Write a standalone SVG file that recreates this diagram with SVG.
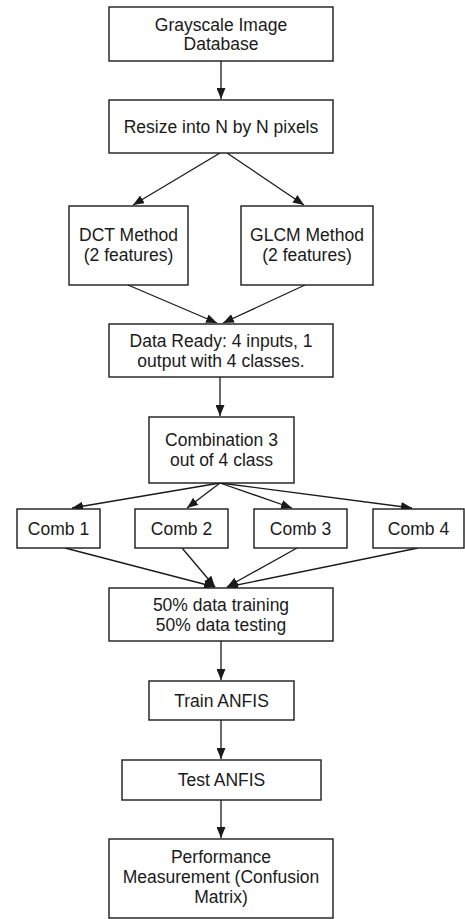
<svg xmlns="http://www.w3.org/2000/svg" width="465" height="919" viewBox="0 0 465 919">
<style>
.box{fill:#fff;stroke:#1a1a1a;stroke-width:1.4}
.t{font-family:"Liberation Sans",Arial,sans-serif;font-size:17.5px;fill:#1a1a1a;text-anchor:middle}
.c{stroke:#1a1a1a;stroke-width:1.3;fill:none;marker-end:url(#ah)}
</style>
<defs>
<marker id="ah" markerUnits="userSpaceOnUse" markerWidth="11" markerHeight="9" refX="11" refY="4.5" orient="auto">
<path d="M0,0 L11,4.5 L0,9 Z" fill="#1a1a1a"/>
</marker>
</defs>
<rect width="465" height="919" fill="#fff"/>
<g id="connectors">
<line class="c" x1="221" y1="61" x2="221" y2="99"/>
<line class="c" x1="220" y1="153" x2="133" y2="205"/>
<line class="c" x1="227" y1="153" x2="304" y2="205"/>
<line class="c" x1="128" y1="285" x2="217" y2="323"/>
<line class="c" x1="305" y1="285" x2="223" y2="323"/>
<line class="c" x1="220" y1="377" x2="220" y2="416"/>
<line class="c" x1="220" y1="483" x2="72" y2="508"/>
<line class="c" x1="220" y1="483" x2="187" y2="508"/>
<line class="c" x1="220" y1="483" x2="292" y2="508"/>
<line class="c" x1="220" y1="483" x2="412" y2="508"/>
<line class="c" x1="65" y1="548" x2="215" y2="587"/>
<line class="c" x1="182" y1="548" x2="215" y2="587"/>
<line class="c" x1="297" y1="548" x2="227" y2="587"/>
<line class="c" x1="418" y1="548" x2="227" y2="587"/>
<line class="c" x1="221" y1="641" x2="221" y2="680"/>
<line class="c" x1="221" y1="720" x2="221" y2="759"/>
<line class="c" x1="221" y1="800" x2="221" y2="838"/>
</g>
<g id="n1"><rect class="box" x="109" y="7" width="224" height="54"/><text class="t" x="221" y="30.5">Grayscale Image</text><text class="t" x="221" y="50">Database</text></g>
<g id="n2"><rect class="box" x="109" y="100" width="224" height="53"/><text class="t" x="221" y="132.5">Resize into N by N pixels</text></g>
<g id="n3"><rect class="box" x="69" y="206" width="119" height="79"/><text class="t" x="128.5" y="241">DCT Method</text><text class="t" x="128.5" y="261">(2 features)</text></g>
<g id="n4"><rect class="box" x="241" y="206" width="132" height="79"/><text class="t" x="307" y="241">GLCM Method</text><text class="t" x="307" y="261">(2 features)</text></g>
<g id="n5"><rect class="box" x="109" y="324" width="224" height="53"/><text class="t" x="221" y="347">Data Ready: 4 inputs, 1</text><text class="t" x="221" y="366.5">output with 4 classes.</text></g>
<g id="n6"><rect class="box" x="149" y="417" width="145" height="66"/><text class="t" x="221.5" y="446">Combination 3</text><text class="t" x="221.5" y="465.5">out of 4 class</text></g>
<g id="n7"><rect class="box" x="17" y="509" width="83" height="39"/><text class="t" x="58.5" y="534.5">Comb 1</text></g>
<g id="n8"><rect class="box" x="135" y="509" width="93" height="39"/><text class="t" x="181.5" y="534.5">Comb 2</text></g>
<g id="n9"><rect class="box" x="254" y="509" width="93" height="39"/><text class="t" x="300.5" y="534.5">Comb 3</text></g>
<g id="n10"><rect class="box" x="373" y="509" width="91" height="39"/><text class="t" x="418.5" y="534.5">Comb 4</text></g>
<g id="n11"><rect class="box" x="109" y="588" width="224" height="53"/><text class="t" x="221" y="611">50% data training</text><text class="t" x="221" y="630.5">50% data testing</text></g>
<g id="n12"><rect class="box" x="149" y="681" width="145" height="39"/><text class="t" x="221.5" y="706.5">Train ANFIS</text></g>
<g id="n13"><rect class="box" x="122" y="760" width="199" height="40"/><text class="t" x="221.5" y="786">Test ANFIS</text></g>
<g id="n14"><rect class="box" x="109" y="839" width="224" height="79"/><text class="t" x="221" y="863">Performance</text><text class="t" x="221" y="883">Measurement (Confusion</text><text class="t" x="221" y="903">Matrix)</text></g>
</svg>
